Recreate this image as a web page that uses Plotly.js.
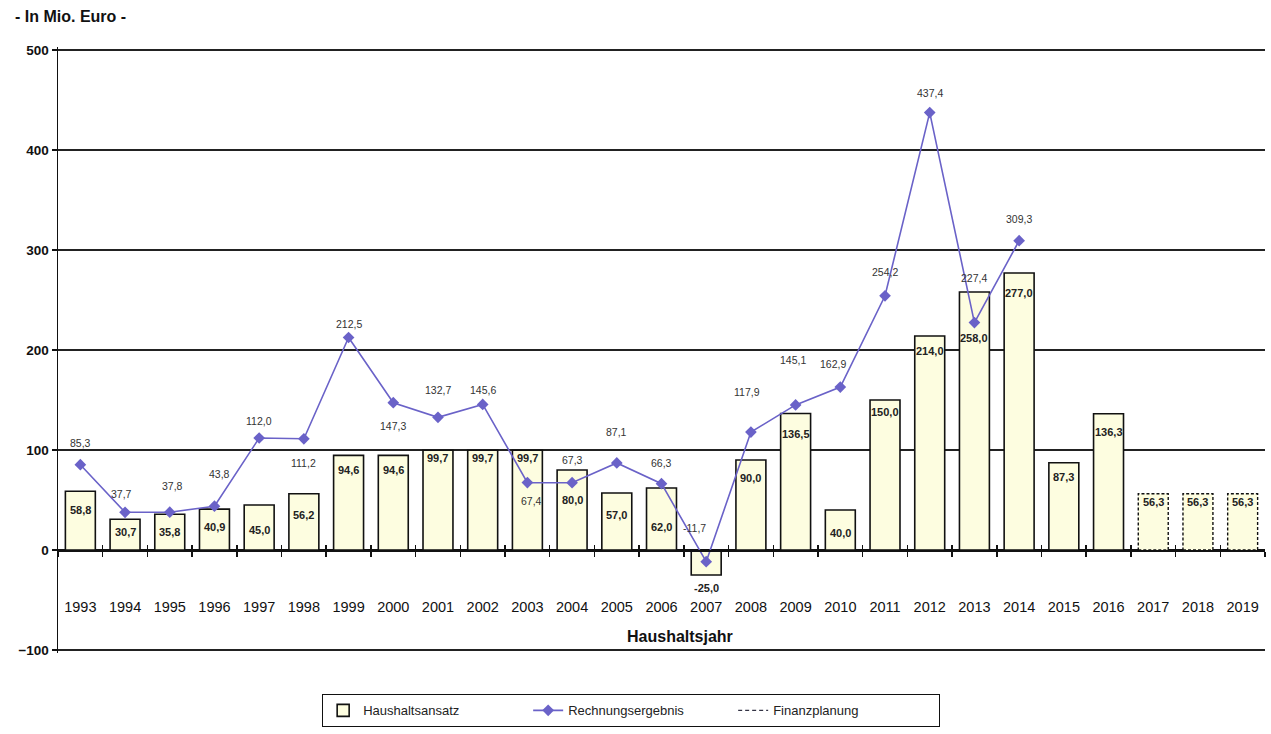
<!DOCTYPE html>
<html><head><meta charset="utf-8">
<script src="https://cdn.plot.ly/plotly-3.0.1.min.js"></script>
<style>html,body{margin:0;padding:0;background:#fff}#c{width:1271px;height:734px}</style>
</head><body><div id="c"></div>
<script>
const years = ['1993','1994','1995','1996','1997','1998','1999','2000','2001','2002','2003','2004','2005','2006','2007','2008','2009','2010','2011','2012','2013','2014','2015','2016','2017','2018','2019'];
const haushaltsansatz = [58.8,30.7,35.8,40.9,45.0,56.2,94.6,94.6,99.7,99.7,99.7,80.0,57.0,62.0,-25.0,90.0,136.5,40.0,150.0,214.0,258.0,277.0,87.3,136.3,56.3,56.3,56.3];
const planYears = ['2017','2018','2019'];
const lineYears = years.slice(0,22);
const rechnungsergebnis = [85.3,37.7,37.8,43.8,112.0,111.2,212.5,147.3,132.7,145.6,67.4,67.3,87.1,66.3,-11.7,117.9,145.1,162.9,254.2,437.4,227.4,309.3];
// label offsets (px) of the value labels relative to each point / bar end
const labelDy = [22,18,26,32,17,-24,14,-23,27,14,-18,23,31,21,34,40,45,23,24,20,45,22];
const labelDx = [0,-4,3,5,0,0,0,0,0,0,4,0,0,0,-12,-4,-3,-7,0,0,0,0];
const barLabelDy = [19,13,18,18,25,21,15,15,8,8,8,30,22,39,13,18,20,23,12,15,46,20,14,18,8,8,8];

const FONT = 'Liberation Sans, Arial, sans-serif';
const isPlan = years.map(y => planYears.includes(y));
const fmt = v => (v < 0 ? '-' : '') + Math.abs(v).toFixed(1).replace('.', ',');

const barTrace = {
  type:'bar', x: years, y: haushaltsansatz, name:'Haushaltsansatz',
  marker:{color:'#fdfde0', line:{color:'#111', width: isPlan.map(p => p ? 0 : 1.6)}},
  cliponaxis:false
};
const lineTrace = {
  type:'scatter', mode:'lines+markers', x: lineYears, y: rechnungsergebnis, name:'Rechnungsergebnis',
  line:{color:'#6a62c8', width:1.6},
  marker:{symbol:'diamond', size:9, color:'#6a62c8'}, cliponaxis:false
};
const planTrace = {
  type:'scatter', mode:'lines', x:[years[0]], y:[null], name:'Finanzplanung',
  line:{color:'#334', width:1.2, dash:'4px,3px'}, hoverinfo:'skip'
};
const tickTrace = {
  type:'scatter', mode:'markers', x: years, y: years.map(() => null), xaxis:'x2', yaxis:'y',
  showlegend:false, hoverinfo:'skip'
};

const shapes = planYears.map(y => {
  const i = years.indexOf(y);
  return {type:'rect', xref:'x', yref:'y', x0: i - 0.335, x1: i + 0.335, y0: 0, y1: haushaltsansatz[i],
    line:{color:'#111', width:1.4, dash:'3px,2px'}, fillcolor:'rgba(0,0,0,0)', layer:'above'};
});

const lineLabels = lineYears.map((y, i) => ({
  xref:'x', yref:'y', x: years.indexOf(y), y: rechnungsergebnis[i], text: fmt(rechnungsergebnis[i]),
  showarrow:false, yshift: labelDy[i], xshift: labelDx[i], font:{family:FONT, size:10.5, color:'#333'}
}));
const barLabels = years.map((y, i) => ({
  xref:'x', yref:'y', x: i, y: haushaltsansatz[i], text: '<b>' + fmt(haushaltsansatz[i]) + '</b>',
  showarrow:false, yshift: -barLabelDy[i], font:{family:FONT, size:11, color:'#222'}
}));

const yRange = [-103, 503];
const zeroPos = (0 - yRange[0]) / (yRange[1] - yRange[0]);
const xRange = [-0.5, years.length - 0.5];
const layout = {
  width:1271, height:734,
  margin:{l:58, r:6, t:47, b:81},
  paper_bgcolor:'#fff', plot_bgcolor:'#fff',
  font:{family:FONT, size:12, color:'#111'},
  separators:',.',
  bargap:0.33, showlegend:true,
  xaxis:{type:'category', categoryorder:'array', categoryarray: years, range: xRange,
    anchor:'free', position: zeroPos, showline:true, linecolor:'#111', linewidth:1.5,
    tickson:'boundaries', ticks:'outside', ticklen:5, tickcolor:'#111', tickwidth:1.5,
    ticklabelstandoff:43, showgrid:false, zeroline:false,
    tickfont:{family:FONT, size:14.5, color:'#111'}},
  xaxis2:{type:'category', categoryorder:'array', categoryarray: years, range: xRange, overlaying:'x',
    anchor:'free', position: zeroPos, showline:false,
    tickson:'boundaries', ticks:'inside', ticklen:5, tickcolor:'#111', tickwidth:1.5,
    showticklabels:false, showgrid:false, zeroline:false},
  yaxis:{range: yRange, tickvals:[-100,0,100,200,300,400,500], showline:true, linecolor:'#111', linewidth:1.5,
    ticks:'outside', ticklen:5, tickcolor:'#111', tickwidth:1.5,
    showgrid:true, gridcolor:'#222', gridwidth:1.4, zeroline:true, zerolinecolor:'#111', zerolinewidth:1.5,
    tickfont:{family:FONT, size:13.5, color:'#111', weight:'bold'}},
  legend:{orientation:'h', x:0.4747, xanchor:'center', y:-0.068, yanchor:'top',
    bordercolor:'#111', borderwidth:1.2, bgcolor:'#fff', entrywidth:160,
    font:{family:FONT, size:13, color:'#222'}},
  shapes: shapes,
  annotations: barLabels.concat(lineLabels, [
    {text:'<b>- In Mio. Euro -</b>', xref:'paper', yref:'paper', x:-0.037, y:1.05, xanchor:'left', yanchor:'middle', showarrow:false, font:{family:FONT, size:16, color:'#111'}},
    {text:'<b>Haushaltsjahr</b>', xref:'paper', yref:'paper', x:0.515, y:0.027, xanchor:'center', yanchor:'middle', showarrow:false, font:{family:FONT, size:16, color:'#111'}}
  ])
};
Plotly.newPlot('c', [barTrace, lineTrace, planTrace, tickTrace], layout, {displayModeBar:false, staticPlot:true});
</script></body></html>
